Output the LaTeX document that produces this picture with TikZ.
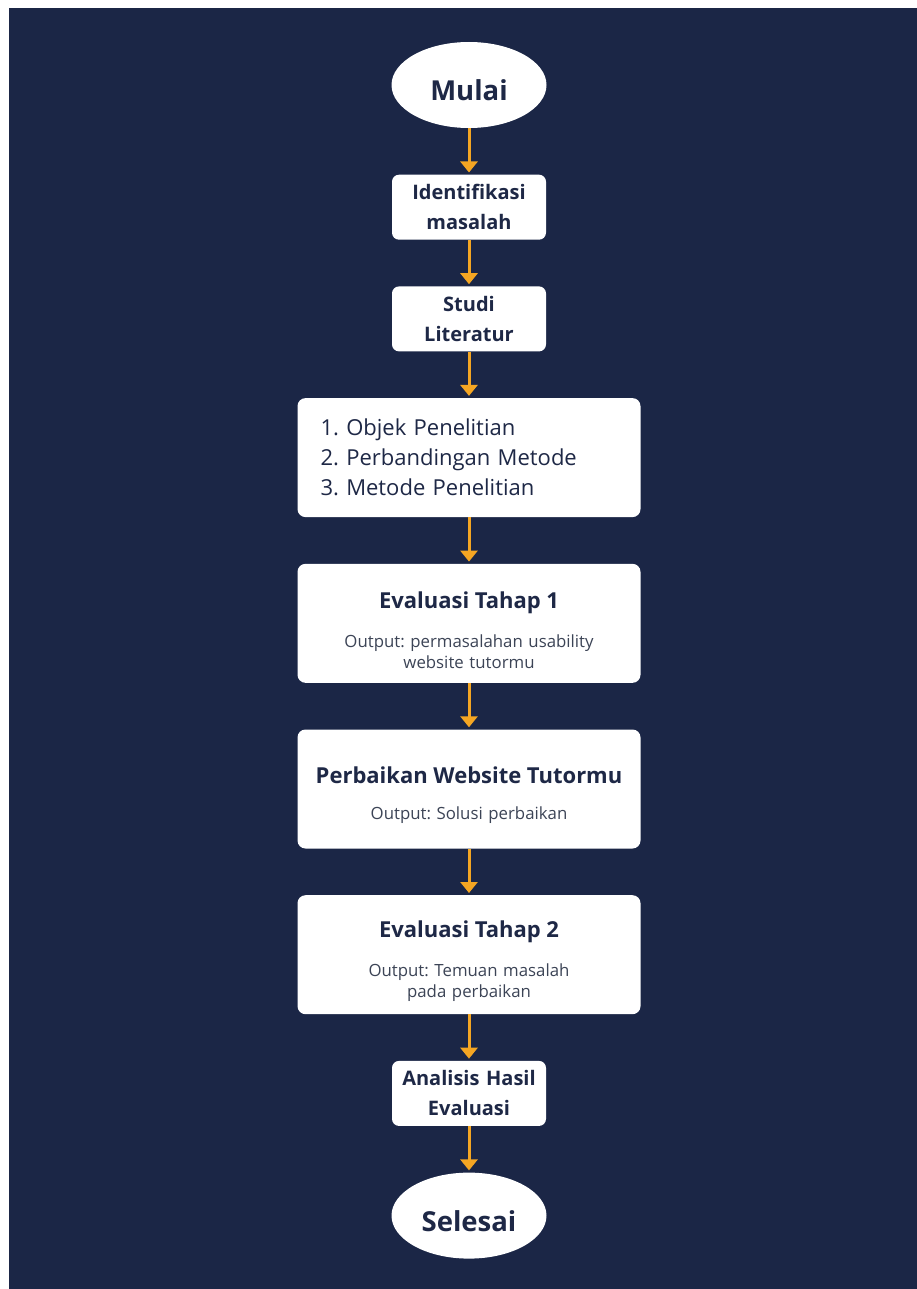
\documentclass[tikz,border=0pt]{standalone}
\usepackage{fontspec}
\setmainfont{Open Sans}
\frenchspacing
\usetikzlibrary{arrows.meta,positioning,shapes.geometric}
\definecolor{latar}{HTML}{1B2646}
\definecolor{teks}{HTML}{1E2846}
\definecolor{abu}{HTML}{3C4456}
\definecolor{jingga}{HTML}{F5A623}
\newcommand\judul[1]{{\fontsize{22}{26}\selectfont\bfseries\color{teks}\rule{0pt}{30pt}#1}}

\begin{document}
\begin{tikzpicture}[x=1pt,y=1pt,node distance=46.3pt]
\tikzset{
  ujung/.style={ellipse,fill=white,minimum width=155pt,minimum height=86pt,inner sep=0pt,
    text height=32pt,text=teks,font=\fontsize{27.5}{30}\selectfont\bfseries},
  kecil/.style={fill=white,rounded corners=7pt,minimum width=154pt,minimum height=65pt,
    inner sep=0pt,text width=150pt,align=center,text=teks,font=\fontsize{20}{30}\selectfont\bfseries},
  lebar/.style={fill=white,rounded corners=8pt,minimum width=343pt,minimum height=119pt,
    inner sep=0pt,text width=335pt,align=center,text=abu,font=\fontsize{16.8}{21}\selectfont},
  panah/.style={-{Triangle[width=17pt,length=11pt]},jingga,line width=3pt,shorten >=2pt}
}
\useasboundingbox (0,0) rectangle (917,-1289);
\fill[white] (0,0) rectangle (917,-1289);
\fill[latar] (9,-8) rectangle (917,-1289);

\node[ujung] (mulai) at (469,-85) {Mulai};
\node[kecil,below=of mulai] (identifikasi) {Identifikasi\\masalah};
\node[kecil,below=of identifikasi] (studi) {Studi\\Literatur};
\node[lebar,below=of studi,align=left,text width=297pt,text=teks,
  font=\fontsize{22}{30}\selectfont] (daftar)
  {1. Objek Penelitian\\2. Perbandingan Metode\\3. Metode Penelitian};
\node[lebar,below=of daftar] (eval1)
  {\judul{Evaluasi Tahap 1}\\[18pt]Output: permasalahan usability\\website tutormu};
\node[lebar,below=of eval1] (perbaikan)
  {\judul{Perbaikan Website Tutormu}\\[15pt]Output: Solusi perbaikan};
\node[lebar,below=of perbaikan] (eval2)
  {\judul{Evaluasi Tahap 2}\\[18pt]Output: Temuan masalah\\pada perbaikan};
\node[kecil,below=of eval2] (analisis) {Analisis Hasil\\Evaluasi};
\node[ujung,below=of analisis] (selesai) {Selesai};

\draw[panah] (mulai) -- (identifikasi); \draw[panah] (identifikasi) -- (studi);
\draw[panah] (studi) -- (daftar); \draw[panah] (daftar) -- (eval1);
\draw[panah] (eval1) -- (perbaikan); \draw[panah] (perbaikan) -- (eval2);
\draw[panah] (eval2) -- (analisis); \draw[panah] (analisis) -- (selesai);
\end{tikzpicture}
\end{document}
